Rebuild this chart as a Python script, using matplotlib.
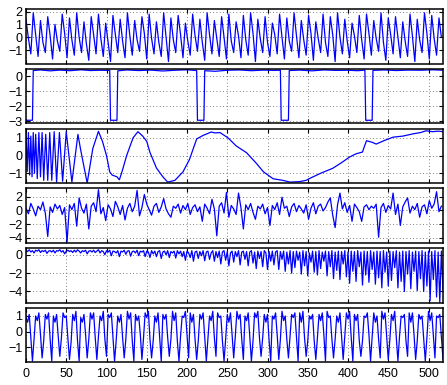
import numpy as np
import matplotlib
matplotlib.use("Agg")
import matplotlib.pyplot as plt

plt.rcParams['font.family'] = ['Liberation Sans', 'DejaVu Sans']

# panel 1: fast oscillation, sampled every 3 units
step1 = 3
sig1 = [
    1.4, -0.1, -1.3, 1.9, 0.2, -1.5, 1.3, -0.4, -1.2, 1.6, 0.1, -1.7, 1.0, -0.3, -1.1,
    1.8, 0.3, -1.6, 1.5, -0.2, -1.4, 1.9, 0.0, -1.2, 1.2, -0.5, -1.8, 1.6, 0.2, -1.3,
    1.8, -0.1, -1.5, 1.1, -0.4, -1.9, 1.7, 0.2, -1.2, 1.4, -0.3, -1.6, 1.9, 0.1, -1.4,
    1.3, -0.2, -1.1, 1.6, 0.3, -1.7, 1.8, -0.1, -1.3, 1.2, -0.4, -1.5, 1.9, 0.0, -1.9,
    1.5, -0.2, -1.2, 1.7, 0.2, -1.6, 1.1, -0.3, -1.4, 1.8, 0.1, -1.1, 1.4, -0.4, -1.8,
    1.9, 0.2, -1.3, 1.3, -0.1, -1.5, 1.6, 0.0, -1.7, 1.8, -0.3, -1.2, 1.2, 0.1, -1.6,
    1.7, -0.2, -1.4, 1.9, 0.3, -1.9, 1.4, -0.1, -1.2, 1.6, -0.4, -1.5, 1.1, 0.2, -1.3,
    1.8, 0.0, -1.7, 1.5, -0.3, -1.1, 1.9, 0.1, -1.6, 1.3, -0.2, -1.4, 1.7, 0.3, -1.8,
    1.2, -0.1, -1.2, 1.8, -0.4, -1.5, 1.6, 0.2, -1.9, 1.9, 0.0, -1.3, 1.4, -0.3, -1.6,
    1.1, 0.1, -1.2, 1.7, -0.2, -1.7, 1.8, 0.3, -1.4, 1.3, -0.1, -1.1, 1.9, -0.4, -1.8,
    1.5, 0.2, -1.3, 1.6, 0.0, -1.6, 1.2, -0.3, -1.5, 1.8, 0.1, -1.9, 1.4, -0.2, -1.2,
    1.9, 0.3, -1.7, 1.7, -0.1, -1.4, 1.5, 0.0,
]

# panel 2: level with drops to -3
x2 = [0, 8, 9, 18, 30, 42, 55, 68, 80, 92, 104, 105, 113, 114, 125, 140, 155, 170,
      185, 200, 212, 213, 221, 222, 235, 250, 265, 280, 295, 308, 316, 317, 326, 327,
      340, 355, 370, 385, 400, 412, 421, 422, 430, 431, 445, 460, 475, 490, 505, 518]
y2 = [-2.95, -2.95, 0.38, 0.42, 0.36, 0.41, 0.37, 0.43, 0.38, 0.4, 0.39, -2.95,
      -2.95, 0.36, 0.42, 0.38, 0.41, 0.35, 0.4, 0.43, 0.38, -2.95, -2.95, 0.37,
      0.33, 0.4, 0.42, 0.37, 0.41, 0.39, 0.4, -2.95, -2.95, 0.38, 0.41, 0.36, 0.42,
      0.39, 0.4, 0.37, 0.41, -2.95, -2.95, 0.39, 0.42, 0.38, 0.41, 0.4, 0.43, 0.4]

# panel 3: chirp-like slow wave
x3 = [0, 1.5, 3, 4.5, 6, 7.5, 9, 10.5, 12, 14, 16, 18, 20, 22, 24.5, 27, 29.5, 32,
      35, 38, 41.5, 45.5, 50, 57, 64.5, 68, 76, 83, 90, 95, 100, 104, 107, 110, 113,
      116, 120, 125, 133, 139, 145, 150, 154, 162, 170, 176, 185, 195, 203, 212,
      220, 230, 235, 241, 251, 261, 274, 286, 295, 307, 319, 328, 340, 348, 352,
      366, 381, 392, 402, 410, 418, 421, 423, 430, 435, 445, 456, 468, 481, 490,
      497, 505, 512, 518]
y3 = [1.2, -0.9, 1.3, -1.1, 1.1, -1.2, 1.3, -1.0, 1.2, -1.3, 1.3, -1.2, 1.3, -1.4,
      1.2, -1.4, 1.3, -1.4, 1.35, -1.5, 1.3, -1.45, 1.35, -1.5, 1.2, 0.3, -1.55,
      0.4, 1.37, 0.8, 0.0, -0.92, -1.1, -1.15, -1.2, -1.37, -0.8, 0.0, 1.0, 1.35,
      1.1, 0.8, 0.18, -0.7, -1.2, -1.5, -1.4, -0.92, -0.23, 0.94, 1.14, 1.33, 1.28,
      1.3, 1.0, 0.55, 0.16, -0.43, -0.92, -1.31, -1.4, -1.5, -1.47, -1.4, -1.3,
      -1.0, -0.72, -0.4, -0.08, 0.1, 0.2, 0.6, 0.84, 0.75, 0.65, 0.85, 1.04, 1.1,
      1.23, 1.3, 1.4, 1.35, 1.38, 1.35]

# panel 4: noisy signal with spikes, sampled every 3 units
step4 = 3
sig4 = [
    0.3, -0.5, 1.0, 0.2, -0.8, 0.6, 0.1, 1.2, -0.4, -3.8,
    0.5, -0.3, 0.9, 0.2, 0.7, -0.6, 0.4, -4.6, 0.8, 0.1,
    1.0, -2.3, 1.8, 0.3, -0.4, 0.9, -2.7, 0.6, 1.1, -0.2,
    3.0, -0.5, 0.4, -1.5, 0.8, 0.2, -0.9, 1.3, 0.5, -0.6,
    0.7, -1.4, 0.3, 1.0, -0.2, 0.6, 2.9, -0.8, 0.4, 2.3,
    0.9, 0.1, -0.7, 0.6, 1.0, -0.3, 0.5, 1.7, 0.2, -0.5,
    -1.0, 0.6, 0.3, 0.9, -0.4, 0.7, 0.1, 1.0, -0.6, 0.4,
    0.8, -0.2, 0.5, -1.6, 0.9, 0.3, -0.5, 1.6, 0.2, -3.7,
    0.6, 1.1, -0.4, 2.6, -1.0, 0.7, 0.2, -0.6, 2.5, 0.4,
    -2.7, 0.8, 0.1, 1.0, -0.3, -1.3, 0.6, 0.2, 0.9, -0.5,
    0.4, -2.2, 0.7, 0.1, 1.1, -0.6, 1.9, 0.3, 0.6, -0.9,
    0.5, 1.0, -0.2, 0.7, 0.2, -0.4, 0.8, -1.3, 0.3, 1.1,
    -0.5, 0.6, 0.9, -0.1, 0.4, 1.2, 1.8, -0.7, -2.5, 0.8,
    2.5, 0.2, 1.1, -0.3, 0.7, -1.6, 0.9, 0.4, -0.2, -1.6,
    0.5, 0.8, 0.1, 0.6, 0.3, 0.9, -3.9, 0.4, 1.0, -0.3,
    0.7, 0.2, 2.5, -0.6, 0.9, -2.2, 0.5, 1.2, 1.8, -0.4,
    0.6, 0.1, 1.0, -1.0, 0.5, 0.8, -0.5, 1.4, 0.3, 0.9,
    2.7, -0.2, 0.6,
]

# panel 5: flat top with downward spikes growing in depth, every 2 units
step5 = 2
sig5 = [
    0.5, 0.35, 0.55, 0.3, 0.45, 0.2, 0.5, 0.4, 0.55, 0.25,
    0.45, 0.35, 0.5, 0.15, 0.4, 0.45, 0.3, 0.5, 0.2, 0.45,
    0.4, 0.55, 0.3, 0.45, 0.1, 0.4, 0.5, 0.35, 0.45, 0.25,
    0.5, 0.3, 0.55, 0.4, 0.2, 0.45, 0.35, 0.5, 0.1, 0.4,
    0.45, 0.3, 0.5, 0.25, 0.4, 0.55, 0.2, 0.45, 0.35, 0.0,
    0.45, 0.3, 0.5, -0.1, 0.4, 0.35, 0.2, 0.45, -0.2, 0.4,
    0.3, 0.5, 0.05, 0.4, 0.45, -0.15, 0.35, 0.4, 0.2, 0.5,
    -0.1, 0.4, 0.3, 0.45, -0.2,
    0.4, 0.3, -0.3, 0.45, 0.1, 0.4, -0.2, 0.35, 0.45, -0.4,
    0.3, 0.4, 0.0, 0.45, -0.3, 0.35, 0.2, 0.4, -0.35, 0.45,
    0.1, 0.4, -0.2,
    0.35, -0.6, 0.4, 0.2, -0.3, 0.45, -0.7, 0.3, 0.4, -0.4,
    0.35, -0.1, 0.45, -0.65, 0.3, 0.4, -0.5, 0.2, 0.45, -0.7, 0.35,
    -0.3, 0.4, -1.0, 0.3, 0.45, -0.6, 0.35, -1.2, 0.2, 0.4,
    -0.8, 0.35, -0.2, 0.45, -1.1, 0.3, 0.4, -0.5, 0.35, -1.2,
    0.3, 0.45, -0.9, 0.3, -1.5, 0.4, -0.4, 0.35, -1.3, 0.45,
    0.2, -1.6, 0.35, -0.7, 0.4, -1.1, 0.3, 0.45, -1.6, 0.35, -0.5,
    0.4, -1.8, 0.3, -1.0, 0.45, -2.0, 0.35, -1.4, 0.4, -0.6,
    0.3, -2.1, 0.45, -1.2, 0.35, -2.3, 0.2, -0.8, 0.4, -1.9,
    0.35, -2.2, 0.45, -1.5, 0.3, -0.7, 0.4, -2.3, 0.35, -1.3,
    0.45, -2.6, 0.3, -1.7, 0.4, -2.7, 0.35, -1.0, 0.45, -2.4, 0.3,
    -3.1, 0.4, -1.8, 0.35, -2.9, 0.45, -1.3, 0.3, -3.3, 0.4,
    -2.2, 0.35, -3.0, 0.45, -1.6, 0.3, -3.2,
    0.4, -2.5, 0.35, -3.6, 0.45, -1.9, 0.3, -3.4, 0.4, -2.8,
    0.35, -1.4, 0.45, -3.6,
    0.3, -2.9, 0.4, -4.0, 0.35, -2.1, 0.45, -3.7, 0.3, -1.8,
    0.4, -3.9, 0.35, -2.6, 0.45, -4.0,
    0.3, -3.4, 0.4, -5.0, 0.35, -2.7, 0.45, -4.6, 0.3, -5.2,
    0.4, -3.8,
]

# panel 6: oscillation with notched tops, sampled every 2 units
step6 = 2
sig6 = [
    0.9, 0.6, 1.1, -0.4, -1.9, -0.5, 1.0, 0.7, 1.2, -0.2, -1.7, -0.6,
    1.1, 0.8, 1.2, -0.5, -1.9, 1.0, 0.6, 1.1, -0.3, -1.6, -0.4,
    1.2, 0.9, 1.0, -0.4, -1.8, -0.7, 1.1, 0.7, 1.3, -0.6, -1.9,
    0.9, 0.6, 1.1, -0.2, -1.7, -0.5, 1.2, 0.8, 1.2, -0.4, -1.8, -0.3,
    1.0, 0.7, 1.3, -0.5, -1.6, 1.1, 0.9, 1.2, -0.3, -1.9, -0.6,
    1.0, 0.6, 1.1, -0.4, -1.7, -0.5, 1.3, 0.8, 1.2, -0.6, -1.9,
    1.1, 0.7, 1.0, -0.2, -1.8, -0.4, 1.2, 0.9, 1.3, -0.5, -1.7, -0.6,
    1.0, 0.6, 1.2, -0.3, -1.9, 1.1, 0.8, 1.1, -0.4, -1.6, -0.5,
    1.3, 0.7, 1.2, -0.6, -1.9, -0.3, 1.0, 0.9, 1.3, -0.2, -1.7,
    1.2, 0.6, 1.1, -0.5, -1.8, -0.6, 1.1, 0.8, 1.2, -0.3, -1.9, -0.4,
    1.0, 0.7, 1.3, -0.4, -1.6, 1.2, 0.9, 1.0, -0.6, -1.9, -0.5,
    1.1, 0.6, 1.2, -0.2, -1.7, -0.3, 1.3, 0.8, 1.1, -0.5, -1.8,
    1.0, 0.7, 1.2, -0.3, -1.9, -0.6, 1.2, 0.9, 1.3, -0.4, -1.6, -0.4,
    1.1, 0.6, 1.1, -0.6, -1.9, 1.0, 0.8, 1.2, -0.2, -1.8, -0.5,
    1.3, 0.7, 1.0, -0.5, -1.7, -0.3, 1.1, 0.9, 1.2, -0.3, -1.9,
    1.2, 0.6, 1.3, -0.4, -1.6, -0.6, 1.0, 0.8, 1.1, -0.6, -1.8, -0.4,
    1.1, 0.7, 1.2, -0.2, -1.9, 1.3, 0.9, 1.0, -0.5, -1.7, -0.5,
    1.0, 0.6, 1.2, -0.3, -1.8, -0.3, 1.2, 0.8, 1.3, -0.4, -1.9,
    1.1, 0.7, 1.1, -0.6, -1.6, -0.6, 1.0, 0.9, 1.2, -0.2, -1.9, -0.4,
    1.2, 0.6, 1.0, -0.5, -1.7, 1.3, 0.8, 1.2, -0.3, -1.8, -0.5,
    1.1, 0.7, 1.3, -0.4, -1.9, -0.3, 1.0, 0.9, 1.1, -0.6, -1.6,
    1.2, 0.6, 1.2, -0.2, -1.8, -0.6, 1.1, 0.8, 1.0, -0.5, -1.9, -0.4,
    1.3, 0.7, 1.2, -0.3, -1.7, 1.0, 0.9, 1.1, -0.4, -1.8, -0.5,
]

ylims = [(-2.05, 2.2), (-3.15, 0.5), (-1.55, 1.53), (-4.7, 3.2), (-5.2, 0.74), (-1.98, 1.53)]
yticks = [[-1, 0, 1, 2], [-3, -2, -1, 0], [-1, 0, 1], [-4, -2, 0, 2], [-4, -2, 0], [-1, 0, 1]]
xticks = np.arange(0, 501, 50)
xmax = 518

series = [
    (np.arange(len(sig1)) * step1, sig1),
    (x2, y2),
    (x3, y3),
    (np.arange(len(sig4)) * step4, sig4),
    (np.arange(len(sig5)) * step5, sig5),
    (np.arange(len(sig6)) * step6, sig6),
]

W, H = 447, 385
fig = plt.figure(figsize=(W / 100, H / 100), dpi=100)

left_px, right_px = 26, 443
top0, gap, hgt = 9, 59.75, 54.5

for k, (xs, ys) in enumerate(series):
    top = top0 + gap * k
    ax = fig.add_axes([left_px / W, 1 - (top + hgt) / H, (right_px - left_px) / W, hgt / H])
    ax.plot(xs, ys, color='#0000ff', linewidth=0.9)
    ax.set_xlim(0, xmax)
    ax.set_ylim(ylims[k])
    ax.set_xticks(xticks)
    ax.set_yticks(yticks[k])
    ax.grid(True, color='#555555', linestyle=(0, (1, 3)), linewidth=0.6)
    ax.tick_params(direction='in', length=3, width=0.8, top=True, right=True,
                   labelsize=9, pad=2.5)
    ax.tick_params(axis='x', pad=4)
    for sp in ax.spines.values():
        sp.set_linewidth(1.1)
    if k < len(series) - 1:
        ax.tick_params(labelbottom=False)

fig.savefig('out.png', dpi=100)
